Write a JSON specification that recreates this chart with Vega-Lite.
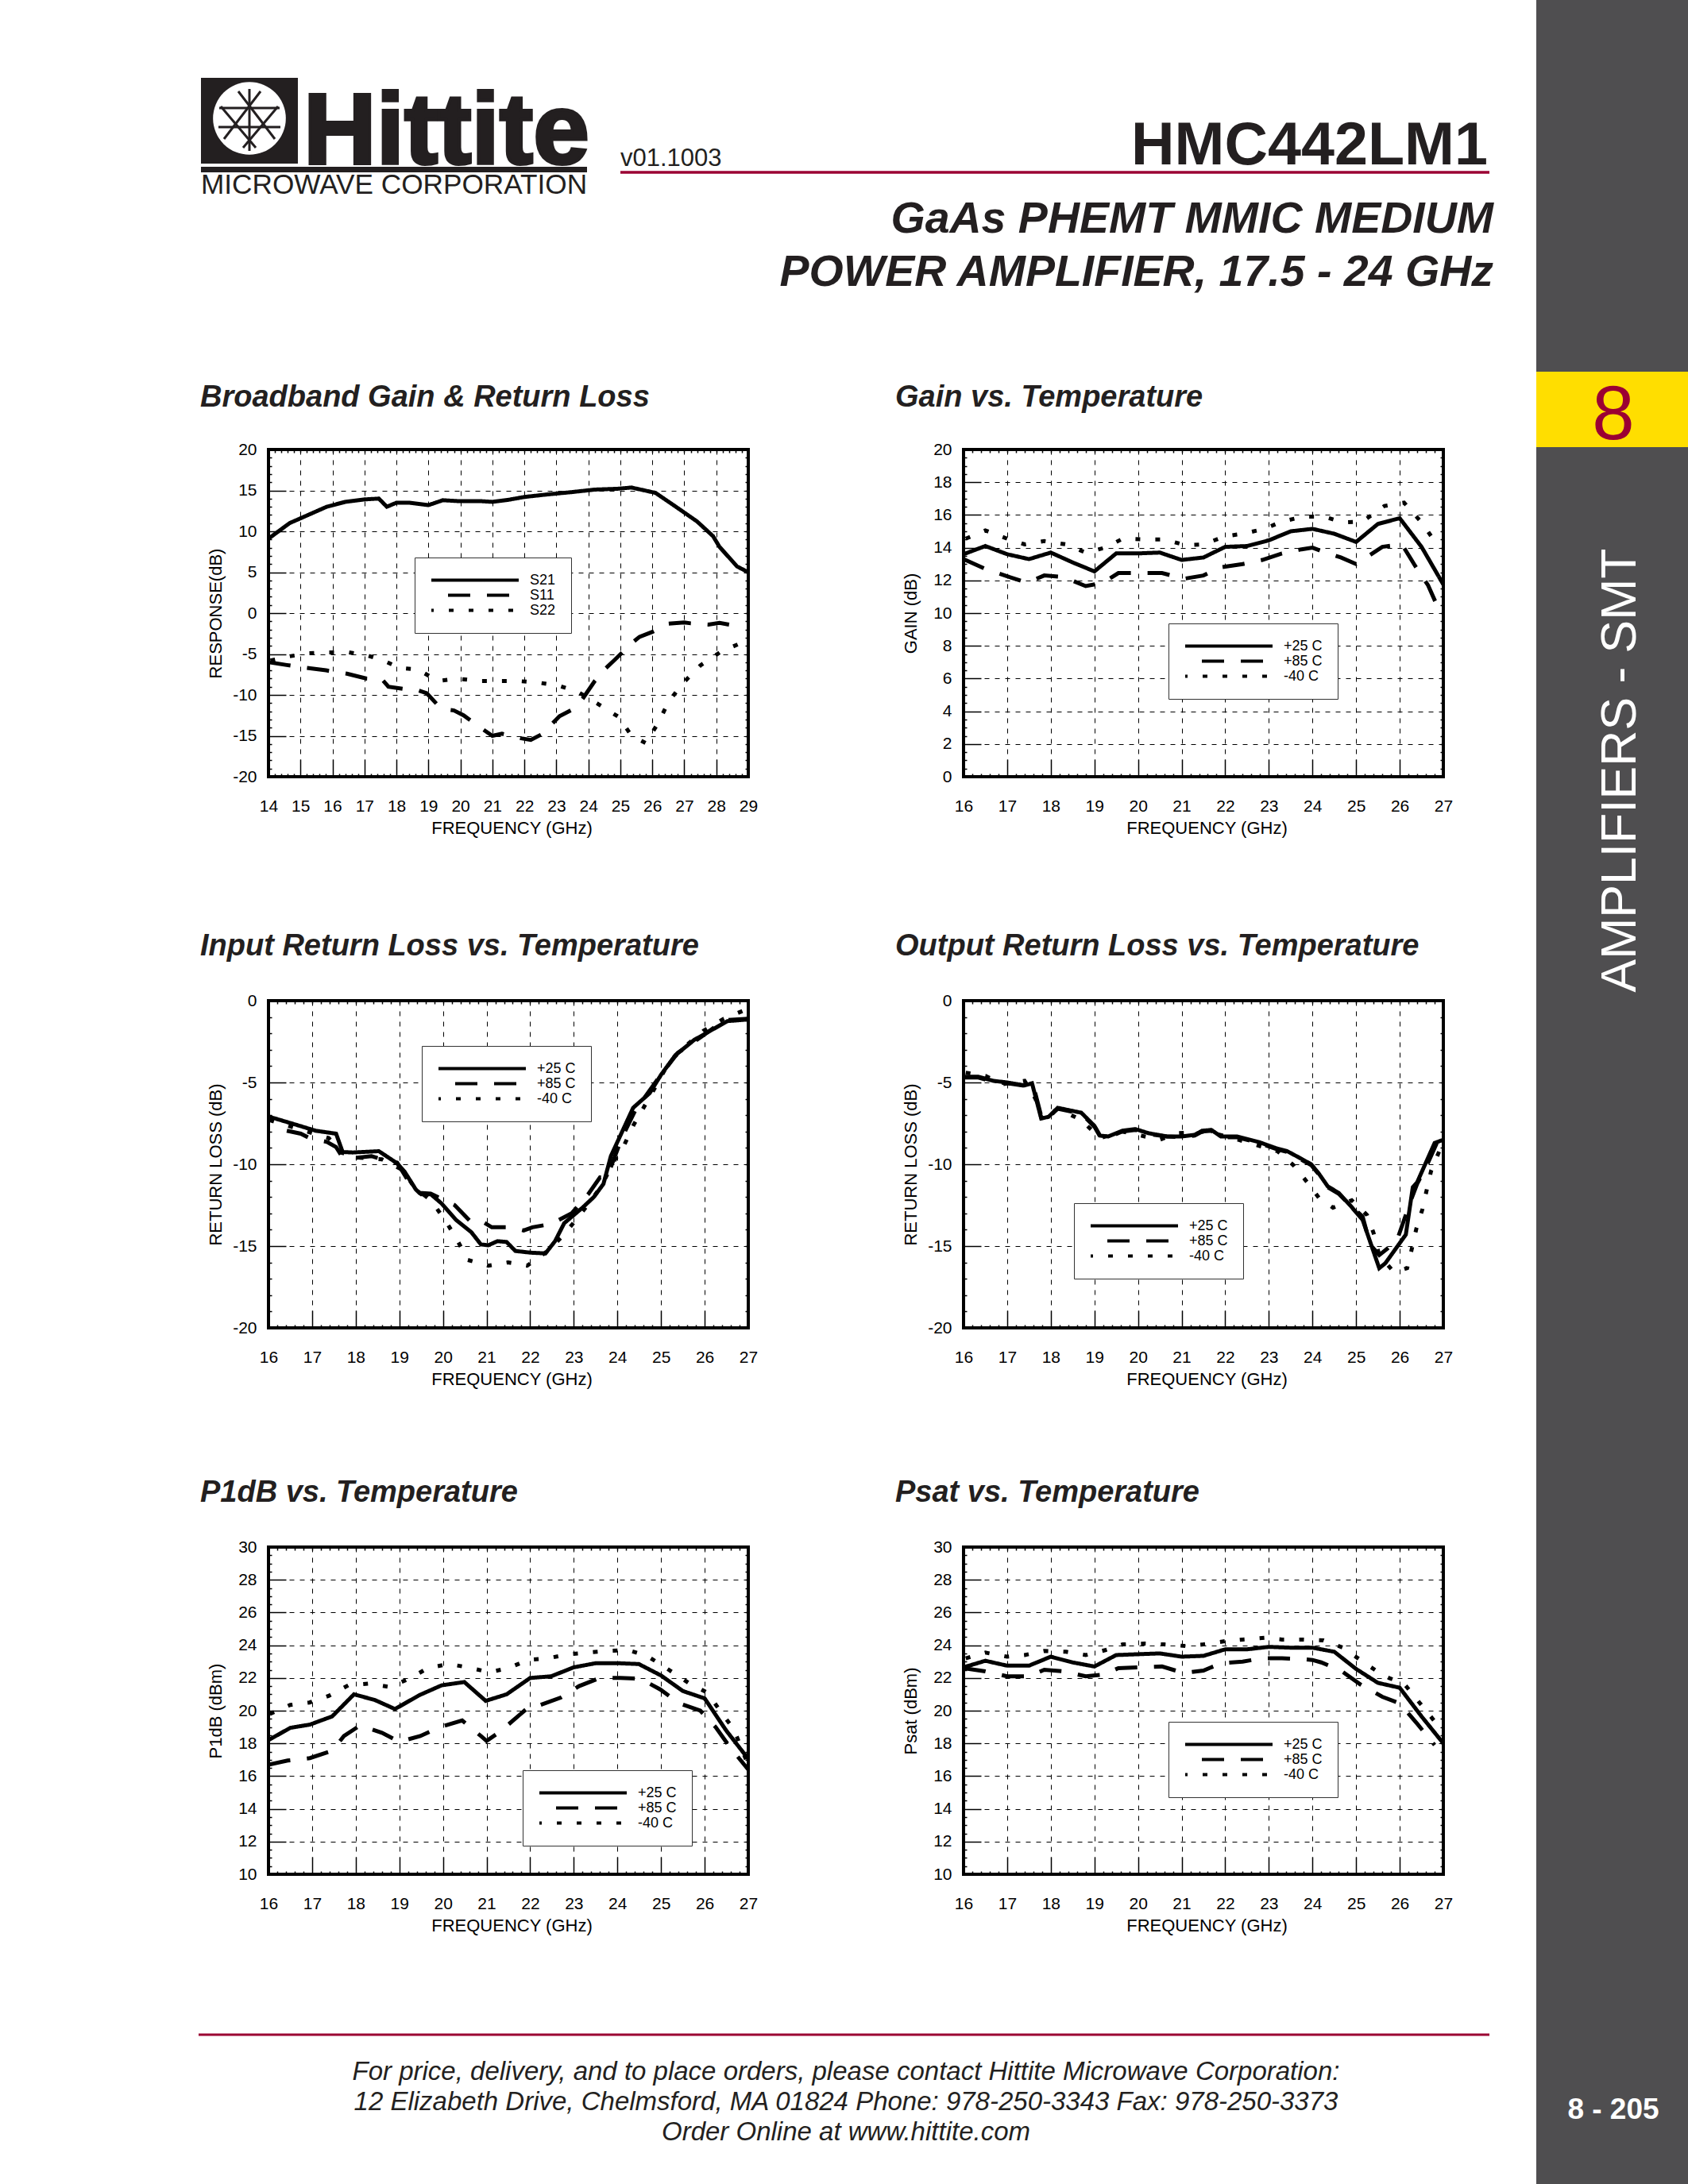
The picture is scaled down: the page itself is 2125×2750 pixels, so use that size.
{"$schema":"https://vega.github.io/schema/vega-lite/v6.json","background":"white","padding":0,"columns":4,"spacing":0,"bounds":"flush",
"resolve":{"scale":{"strokeDash":"independent"},"legend":{"strokeDash":"independent"}},
"config":{"font":"Liberation Sans","view":{"stroke":null},
"title":{"font":"Liberation Sans","fontSize":38,"fontWeight":"bold","fontStyle":"italic","anchor":"start","frame":"group","color":"#231f20","dx":-86,"baseline":"alphabetic"},
"axis":{"labelFontSize":21,"titleFontSize":22,"titleFontWeight":"normal","tickColor":"black","tickWidth":1.5,"domain":false,"gridColor":"black","gridDash":[6,7],"gridWidth":1,"labelColor":"black","titleColor":"black","labelOverlap":false,"labelBound":false,"labelFlush":false,"labelAngle":0},
"legend":{"symbolType":"stroke","symbolSize":12100,"symbolStrokeWidth":4,"symbolStrokeColor":"black","clipHeight":19,"labelFontSize":18,"labelColor":"black","padding":19,"strokeColor":"#333333","fillColor":"white","rowPadding":0,"symbolDashOffset":28,"labelOffset":12}},
"concat":[
{"width":338,"height":566,"data":{"values":[{}]},"layer":[
{"mark":{"type":"rect","color":"#4f4e50"},"encoding":{"x":{"datum":1934,"scale":{"domain":[0,338],"nice":false,"zero":false},"axis":null},"x2":{"datum":2125},"y":{"datum":0,"scale":{"domain":[0,566],"nice":false,"zero":false,"reverse":true},"axis":null},"y2":{"datum":2750}}},
{"mark":{"type":"rect","color":"#ffde00"},"encoding":{"x":{"datum":1934,"scale":{"domain":[0,338],"nice":false,"zero":false},"axis":null},"x2":{"datum":2125},"y":{"datum":468,"scale":{"domain":[0,566],"nice":false,"zero":false,"reverse":true},"axis":null},"y2":{"datum":563}}},
{"mark":{"type":"text","fontSize":96,"color":"#9b0033","align":"center","baseline":"alphabetic"},"encoding":{"text":{"value":"8"},"x":{"datum":2031,"scale":{"domain":[0,338],"nice":false,"zero":false},"axis":null},"y":{"datum":553,"scale":{"domain":[0,566],"nice":false,"zero":false,"reverse":true},"axis":null}}},
{"mark":{"type":"text","fontSize":62.5,"color":"white","align":"center","baseline":"alphabetic","angle":270},"encoding":{"text":{"value":"AMPLIFIERS - SMT"},"x":{"datum":2059,"scale":{"domain":[0,338],"nice":false,"zero":false},"axis":null},"y":{"datum":970,"scale":{"domain":[0,566],"nice":false,"zero":false,"reverse":true},"axis":null}}},
{"mark":{"type":"text","fontSize":37,"fontWeight":"bold","color":"white","align":"center","baseline":"alphabetic"},"encoding":{"text":{"value":"8 - 205"},"x":{"datum":2031,"scale":{"domain":[0,338],"nice":false,"zero":false},"axis":null},"y":{"datum":2668,"scale":{"domain":[0,566],"nice":false,"zero":false,"reverse":true},"axis":null}}},
{"mark":{"type":"rule","color":"#9b0033","strokeWidth":3.5},"encoding":{"x":{"datum":781,"scale":{"domain":[0,338],"nice":false,"zero":false},"axis":null},"x2":{"datum":1875},"y":{"datum":217,"scale":{"domain":[0,566],"nice":false,"zero":false,"reverse":true},"axis":null}}},
{"mark":{"type":"rule","color":"#9b0033","strokeWidth":3},"encoding":{"x":{"datum":250,"scale":{"domain":[0,338],"nice":false,"zero":false},"axis":null},"x2":{"datum":1875},"y":{"datum":2562,"scale":{"domain":[0,566],"nice":false,"zero":false,"reverse":true},"axis":null}}},
{"mark":{"type":"text","fontSize":75.5,"fontWeight":"bold","color":"#231f20","align":"right","baseline":"alphabetic"},"encoding":{"text":{"value":"HMC442LM1"},"x":{"datum":1873,"scale":{"domain":[0,338],"nice":false,"zero":false},"axis":null},"y":{"datum":207,"scale":{"domain":[0,566],"nice":false,"zero":false,"reverse":true},"axis":null}}},
{"mark":{"type":"text","fontSize":31,"color":"#231f20","align":"left","baseline":"alphabetic"},"encoding":{"text":{"value":"v01.1003"},"x":{"datum":781,"scale":{"domain":[0,338],"nice":false,"zero":false},"axis":null},"y":{"datum":209,"scale":{"domain":[0,566],"nice":false,"zero":false,"reverse":true},"axis":null}}},
{"mark":{"type":"text","fontSize":55.5,"fontWeight":"bold","fontStyle":"italic","color":"#231f20","align":"right","baseline":"alphabetic"},"encoding":{"text":{"value":"GaAs PHEMT MMIC MEDIUM"},"x":{"datum":1880,"scale":{"domain":[0,338],"nice":false,"zero":false},"axis":null},"y":{"datum":293,"scale":{"domain":[0,566],"nice":false,"zero":false,"reverse":true},"axis":null}}},
{"mark":{"type":"text","fontSize":55.5,"fontWeight":"bold","fontStyle":"italic","color":"#231f20","align":"right","baseline":"alphabetic"},"encoding":{"text":{"value":"POWER AMPLIFIER, 17.5 - 24 GHz"},"x":{"datum":1880,"scale":{"domain":[0,338],"nice":false,"zero":false},"axis":null},"y":{"datum":360,"scale":{"domain":[0,566],"nice":false,"zero":false,"reverse":true},"axis":null}}},
{"mark":{"type":"text","fontSize":33,"fontStyle":"italic","color":"#231f20","align":"center","baseline":"alphabetic"},"encoding":{"text":{"value":"For price, delivery, and to place orders, please contact Hittite Microwave Corporation:"},"x":{"datum":1065,"scale":{"domain":[0,338],"nice":false,"zero":false},"axis":null},"y":{"datum":2619,"scale":{"domain":[0,566],"nice":false,"zero":false,"reverse":true},"axis":null}}},
{"mark":{"type":"text","fontSize":33,"fontStyle":"italic","color":"#231f20","align":"center","baseline":"alphabetic"},"encoding":{"text":{"value":"12 Elizabeth Drive, Chelmsford, MA 01824 Phone: 978-250-3343  Fax: 978-250-3373"},"x":{"datum":1065,"scale":{"domain":[0,338],"nice":false,"zero":false},"axis":null},"y":{"datum":2657,"scale":{"domain":[0,566],"nice":false,"zero":false,"reverse":true},"axis":null}}},
{"mark":{"type":"text","fontSize":33,"fontStyle":"italic","color":"#231f20","align":"center","baseline":"alphabetic"},"encoding":{"text":{"value":"Order Online at www.hittite.com"},"x":{"datum":1065,"scale":{"domain":[0,338],"nice":false,"zero":false},"axis":null},"y":{"datum":2695,"scale":{"domain":[0,566],"nice":false,"zero":false,"reverse":true},"axis":null}}},
{"mark":{"type":"rect","color":"#231f20"},"encoding":{"x":{"datum":253,"scale":{"domain":[0,338],"nice":false,"zero":false},"axis":null},"x2":{"datum":375},"y":{"datum":98,"scale":{"domain":[0,566],"nice":false,"zero":false,"reverse":true},"axis":null},"y2":{"datum":206}}},
{"mark":{"type":"rect","color":"#231f20"},"encoding":{"x":{"datum":253,"scale":{"domain":[0,338],"nice":false,"zero":false},"axis":null},"x2":{"datum":739},"y":{"datum":210,"scale":{"domain":[0,566],"nice":false,"zero":false,"reverse":true},"axis":null},"y2":{"datum":217}}},
{"mark":{"type":"point","filled":true,"color":"white","opacity":1,"size":8400},"encoding":{"x":{"datum":314,"scale":{"domain":[0,338],"nice":false,"zero":false},"axis":null},"y":{"datum":149,"scale":{"domain":[0,566],"nice":false,"zero":false,"reverse":true},"axis":null}}},
{"mark":{"type":"rule","color":"#231f20","strokeWidth":3},"encoding":{"x":{"datum":300,"scale":{"domain":[0,338],"nice":false,"zero":false},"axis":null},"x2":{"datum":346},"y":{"datum":115,"scale":{"domain":[0,566],"nice":false,"zero":false,"reverse":true},"axis":null},"y2":{"datum":175}}},
{"mark":{"type":"rule","color":"#231f20","strokeWidth":3},"encoding":{"x":{"datum":328,"scale":{"domain":[0,338],"nice":false,"zero":false},"axis":null},"x2":{"datum":282},"y":{"datum":115,"scale":{"domain":[0,566],"nice":false,"zero":false,"reverse":true},"axis":null},"y2":{"datum":175}}},
{"mark":{"type":"rule","color":"#231f20","strokeWidth":3},"encoding":{"x":{"datum":278,"scale":{"domain":[0,338],"nice":false,"zero":false},"axis":null},"x2":{"datum":322},"y":{"datum":134,"scale":{"domain":[0,566],"nice":false,"zero":false,"reverse":true},"axis":null},"y2":{"datum":186}}},
{"mark":{"type":"rule","color":"#231f20","strokeWidth":3},"encoding":{"x":{"datum":350,"scale":{"domain":[0,338],"nice":false,"zero":false},"axis":null},"x2":{"datum":306},"y":{"datum":134,"scale":{"domain":[0,566],"nice":false,"zero":false,"reverse":true},"axis":null},"y2":{"datum":186}}},
{"mark":{"type":"rule","color":"#231f20","strokeWidth":3},"encoding":{"x":{"datum":276,"scale":{"domain":[0,338],"nice":false,"zero":false},"axis":null},"x2":{"datum":352},"y":{"datum":136,"scale":{"domain":[0,566],"nice":false,"zero":false,"reverse":true},"axis":null}}},
{"mark":{"type":"rule","color":"#231f20","strokeWidth":3},"encoding":{"x":{"datum":275,"scale":{"domain":[0,338],"nice":false,"zero":false},"axis":null},"x2":{"datum":353},"y":{"datum":160,"scale":{"domain":[0,566],"nice":false,"zero":false,"reverse":true},"axis":null}}},
{"mark":{"type":"rule","color":"#231f20","strokeWidth":3},"encoding":{"x":{"datum":314,"scale":{"domain":[0,338],"nice":false,"zero":false},"axis":null},"y":{"datum":112,"scale":{"domain":[0,566],"nice":false,"zero":false,"reverse":true},"axis":null},"y2":{"datum":190}}},
{"mark":{"type":"text","fontSize":127,"fontWeight":"bold","color":"#231f20","stroke":"#231f20","strokeWidth":4,"align":"left","baseline":"alphabetic"},"encoding":{"text":{"value":"Hittite"},"x":{"datum":382,"scale":{"domain":[0,338],"nice":false,"zero":false},"axis":null},"y":{"datum":206,"scale":{"domain":[0,566],"nice":false,"zero":false,"reverse":true},"axis":null}}},
{"mark":{"type":"text","fontSize":35.2,"color":"#231f20","align":"left","baseline":"alphabetic"},"encoding":{"text":{"value":"MICROWAVE CORPORATION"},"x":{"datum":253,"scale":{"domain":[0,338],"nice":false,"zero":false},"axis":null},"y":{"datum":244,"scale":{"domain":[0,566],"nice":false,"zero":false,"reverse":true},"axis":null}}}
]},
{"width":1,"height":1,"data":{"values":[]},"mark":"point"},
{"width":271,"height":1,"data":{"values":[]},"mark":"point"},
{"width":1,"height":1,"data":{"values":[]},"mark":"point"},
{"width":1,"height":412,"data":{"values":[]},"mark":"point"},
{"width":604,"height":412,"title":{"text":"Broadband Gain & Return Loss","offset":35},"resolve":{"axis":{"x":"independent","y":"independent"}},
"layer":[{"data":{"values":[
{"f":14,"v":9.1,"s":"S21"},{"f":14.66,"v":11,"s":"S21"},{"f":15.82,"v":13,"s":"S21"},{"f":16.4,"v":13.6,"s":"S21"},{"f":17,"v":13.9,"s":"S21"},{"f":17.45,"v":14,"s":"S21"},{"f":17.7,"v":13,"s":"S21"},{"f":18,"v":13.5,"s":"S21"},{"f":18.4,"v":13.5,"s":"S21"},{"f":19,"v":13.2,"s":"S21"},{"f":19.45,"v":13.8,"s":"S21"},{"f":19.9,"v":13.7,"s":"S21"},{"f":20.6,"v":13.7,"s":"S21"},{"f":21,"v":13.6,"s":"S21"},{"f":21.5,"v":13.85,"s":"S21"},{"f":22,"v":14.2,"s":"S21"},{"f":22.7,"v":14.5,"s":"S21"},{"f":23.5,"v":14.8,"s":"S21"},{"f":24.2,"v":15.1,"s":"S21"},{"f":24.9,"v":15.2,"s":"S21"},{"f":25.35,"v":15.35,"s":"S21"},{"f":26.1,"v":14.7,"s":"S21"},{"f":26.7,"v":13.1,"s":"S21"},{"f":27.4,"v":11.2,"s":"S21"},{"f":27.9,"v":9.4,"s":"S21"},{"f":28.1,"v":8.1,"s":"S21"},{"f":28.65,"v":5.7,"s":"S21"},{"f":29,"v":5,"s":"S21"},
{"f":14,"v":-6,"s":"S11"},{"f":14.57,"v":-6.35,"s":"S11"},{"f":15.2,"v":-6.7,"s":"S11"},{"f":15.8,"v":-7,"s":"S11"},{"f":16.45,"v":-7.4,"s":"S11"},{"f":17.07,"v":-8,"s":"S11"},{"f":17.55,"v":-8.1,"s":"S11"},{"f":17.75,"v":-9,"s":"S11"},{"f":18.3,"v":-9.3,"s":"S11"},{"f":18.6,"v":-9.35,"s":"S11"},{"f":18.95,"v":-9.8,"s":"S11"},{"f":19.4,"v":-11.7,"s":"S11"},{"f":19.8,"v":-11.9,"s":"S11"},{"f":20.1,"v":-12.5,"s":"S11"},{"f":20.7,"v":-14.2,"s":"S11"},{"f":21,"v":-15,"s":"S11"},{"f":21.3,"v":-14.75,"s":"S11"},{"f":21.9,"v":-15.3,"s":"S11"},{"f":22.2,"v":-15.5,"s":"S11"},{"f":22.55,"v":-14.8,"s":"S11"},{"f":23.1,"v":-12.6,"s":"S11"},{"f":23.5,"v":-11.8,"s":"S11"},{"f":23.8,"v":-10.6,"s":"S11"},{"f":24.2,"v":-8.3,"s":"S11"},{"f":24.5,"v":-6.9,"s":"S11"},{"f":24.8,"v":-5.8,"s":"S11"},{"f":25.35,"v":-3.7,"s":"S11"},{"f":25.6,"v":-2.9,"s":"S11"},{"f":26,"v":-2.3,"s":"S11"},{"f":26.5,"v":-1.3,"s":"S11"},{"f":27,"v":-1.15,"s":"S11"},{"f":27.2,"v":-1.25,"s":"S11"},{"f":27.75,"v":-1.4,"s":"S11"},{"f":28.1,"v":-1.2,"s":"S11"},{"f":28.4,"v":-1.4,"s":"S11"},
{"f":14.06,"v":-5.8,"s":"S22"},{"f":14.64,"v":-5.3,"s":"S22"},{"f":15.24,"v":-4.9,"s":"S22"},{"f":15.86,"v":-4.8,"s":"S22"},{"f":16.5,"v":-4.8,"s":"S22"},{"f":17.1,"v":-5.2,"s":"S22"},{"f":17.6,"v":-5.8,"s":"S22"},{"f":18.1,"v":-6.7,"s":"S22"},{"f":18.67,"v":-6.9,"s":"S22"},{"f":19.3,"v":-8.3,"s":"S22"},{"f":19.9,"v":-8,"s":"S22"},{"f":20.56,"v":-8.3,"s":"S22"},{"f":21.2,"v":-8.3,"s":"S22"},{"f":21.8,"v":-8.3,"s":"S22"},{"f":22.45,"v":-8.5,"s":"S22"},{"f":23.1,"v":-8.9,"s":"S22"},{"f":23.66,"v":-9.6,"s":"S22"},{"f":24.3,"v":-11.1,"s":"S22"},{"f":24.95,"v":-12.7,"s":"S22"},{"f":25.35,"v":-15,"s":"S22"},{"f":25.8,"v":-15.9,"s":"S22"},{"f":26.2,"v":-13.3,"s":"S22"},{"f":26.5,"v":-10.9,"s":"S22"},{"f":26.95,"v":-8.6,"s":"S22"},{"f":27.5,"v":-6.4,"s":"S22"},{"f":28.15,"v":-4.7,"s":"S22"},{"f":28.75,"v":-3.7,"s":"S22"},{"f":29,"v":-3.6,"s":"S22"}]},
"mark":{"type":"line","color":"black","strokeWidth":5,"clip":true,"strokeCap":"butt"},
"encoding":{"x":{"field":"f","type":"quantitative","scale":{"domain":[14,29],"nice":false,"zero":false},"axis":{"title":"FREQUENCY (GHz)","tickCount":75,"tickSize":{"condition":{"test":"abs(datum.value-round(datum.value))<0.01","value":-22},"value":-4},"grid":true,"gridOpacity":{"condition":{"test":"abs(datum.value-round(datum.value))<0.01","value":1},"value":0},"labelExpr":"abs(datum.value-round(datum.value))<0.01 ? round(datum.value) : ''","labelPadding":48,"titleX":306,"titleY":71,"titleBaseline":"alphabetic"}},
"y":{"field":"v","type":"quantitative","scale":{"domain":[-20,20],"nice":false,"zero":false},"axis":{"title":"RESPONSE(dB)","tickCount":40,"tickSize":{"condition":{"test":"abs(datum.value/5-round(datum.value/5))<0.01","value":-22},"value":-4},"grid":true,"gridOpacity":{"condition":{"test":"abs(datum.value/5-round(datum.value/5))<0.01","value":1},"value":0},"labelExpr":"abs(datum.value/5-round(datum.value/5))<0.01 ? round(datum.value) : ''","labelPadding":37,"titleX":-60,"titleBaseline":"alphabetic"}},
"strokeDash":{"field":"s","type":"nominal","scale":{"domain":["S21","S11","S22"],"range":[[1,0],[28,21],[6,19]]},"legend":{"orient":"none","legendX":184,"legendY":136,"title":null}}}},
{"data":{"values":[]},"mark":{"type":"line"},"encoding":{"x":{"field":"f","type":"quantitative","scale":{"domain":[14,29],"nice":false,"zero":false},"axis":{"orient":"top","title":null,"labels":false,"tickCount":75,"tickSize":-4}},"y":{"field":"v","type":"quantitative","scale":{"domain":[-20,20],"nice":false,"zero":false},"axis":{"orient":"right","title":null,"labels":false,"tickCount":40,"tickSize":-4}}}}],
"view":{"stroke":"black","strokeWidth":4}},
{"width":1,"height":1,"data":{"values":[]},"mark":"point"},
{"width":604,"height":412,"title":{"text":"Gain vs. Temperature","offset":35},"resolve":{"axis":{"x":"independent","y":"independent"}},
"layer":[{"data":{"values":[
{"f":16,"v":13.6,"s":"+25 C"},{"f":16.5,"v":14.1,"s":"+25 C"},{"f":17,"v":13.6,"s":"+25 C"},{"f":17.5,"v":13.3,"s":"+25 C"},{"f":18,"v":13.7,"s":"+25 C"},{"f":18.5,"v":13.1,"s":"+25 C"},{"f":19,"v":12.55,"s":"+25 C"},{"f":19.5,"v":13.65,"s":"+25 C"},{"f":20,"v":13.65,"s":"+25 C"},{"f":20.5,"v":13.7,"s":"+25 C"},{"f":21,"v":13.25,"s":"+25 C"},{"f":21.5,"v":13.4,"s":"+25 C"},{"f":22,"v":14.05,"s":"+25 C"},{"f":22.5,"v":14.1,"s":"+25 C"},{"f":23,"v":14.45,"s":"+25 C"},{"f":23.5,"v":15,"s":"+25 C"},{"f":24,"v":15.15,"s":"+25 C"},{"f":24.5,"v":14.85,"s":"+25 C"},{"f":25,"v":14.35,"s":"+25 C"},{"f":25.5,"v":15.45,"s":"+25 C"},{"f":26,"v":15.8,"s":"+25 C"},{"f":26.5,"v":14.05,"s":"+25 C"},{"f":27,"v":11.75,"s":"+25 C"},
{"f":16,"v":13.3,"s":"+85 C"},{"f":16.5,"v":12.7,"s":"+85 C"},{"f":17,"v":12.25,"s":"+85 C"},{"f":17.4,"v":11.9,"s":"+85 C"},{"f":17.5,"v":11.9,"s":"+85 C"},{"f":17.85,"v":12.3,"s":"+85 C"},{"f":18.3,"v":12.2,"s":"+85 C"},{"f":18.8,"v":11.65,"s":"+85 C"},{"f":19.2,"v":11.85,"s":"+85 C"},{"f":19.55,"v":12.45,"s":"+85 C"},{"f":20.05,"v":12.45,"s":"+85 C"},{"f":20.55,"v":12.45,"s":"+85 C"},{"f":21.05,"v":12.1,"s":"+85 C"},{"f":21.5,"v":12.3,"s":"+85 C"},{"f":21.9,"v":12.8,"s":"+85 C"},{"f":22.4,"v":13,"s":"+85 C"},{"f":22.85,"v":13.25,"s":"+85 C"},{"f":23.3,"v":13.65,"s":"+85 C"},{"f":23.75,"v":13.9,"s":"+85 C"},{"f":24,"v":14,"s":"+85 C"},{"f":24.2,"v":13.8,"s":"+85 C"},{"f":24.65,"v":13.4,"s":"+85 C"},{"f":25,"v":13,"s":"+85 C"},{"f":25.15,"v":13.25,"s":"+85 C"},{"f":25.6,"v":14.05,"s":"+85 C"},{"f":26.05,"v":14.2,"s":"+85 C"},{"f":26.35,"v":12.9,"s":"+85 C"},{"f":26.65,"v":11.7,"s":"+85 C"},{"f":26.85,"v":10.5,"s":"+85 C"},{"f":27,"v":10,"s":"+85 C"},
{"f":16.05,"v":14.55,"s":"-40 C"},{"f":16.5,"v":15.05,"s":"-40 C"},{"f":17,"v":14.55,"s":"-40 C"},{"f":17.4,"v":14.2,"s":"-40 C"},{"f":17.85,"v":14.4,"s":"-40 C"},{"f":18.35,"v":14.2,"s":"-40 C"},{"f":18.8,"v":13.7,"s":"-40 C"},{"f":19.25,"v":14,"s":"-40 C"},{"f":19.65,"v":14.55,"s":"-40 C"},{"f":20.15,"v":14.5,"s":"-40 C"},{"f":20.6,"v":14.5,"s":"-40 C"},{"f":21.1,"v":14.15,"s":"-40 C"},{"f":21.5,"v":14.2,"s":"-40 C"},{"f":22,"v":14.7,"s":"-40 C"},{"f":22.4,"v":14.85,"s":"-40 C"},{"f":22.9,"v":15.15,"s":"-40 C"},{"f":23.3,"v":15.6,"s":"-40 C"},{"f":23.8,"v":15.9,"s":"-40 C"},{"f":24.25,"v":15.9,"s":"-40 C"},{"f":24.7,"v":15.55,"s":"-40 C"},{"f":25.15,"v":15.6,"s":"-40 C"},{"f":25.65,"v":16.55,"s":"-40 C"},{"f":26.1,"v":16.75,"s":"-40 C"},{"f":26.5,"v":15.55,"s":"-40 C"},{"f":26.8,"v":14.4,"s":"-40 C"},{"f":27,"v":14.2,"s":"-40 C"}]},
"mark":{"type":"line","color":"black","strokeWidth":5,"clip":true,"strokeCap":"butt"},
"encoding":{"x":{"field":"f","type":"quantitative","scale":{"domain":[16,27],"nice":false,"zero":false},"axis":{"title":"FREQUENCY (GHz)","tickCount":55,"tickSize":{"condition":{"test":"abs(datum.value-round(datum.value))<0.01","value":-22},"value":-4},"grid":true,"gridOpacity":{"condition":{"test":"abs(datum.value-round(datum.value))<0.01","value":1},"value":0},"labelExpr":"abs(datum.value-round(datum.value))<0.01 ? round(datum.value) : ''","labelPadding":48,"titleX":306,"titleY":71,"titleBaseline":"alphabetic"}},
"y":{"field":"v","type":"quantitative","scale":{"domain":[0,20],"nice":false,"zero":false},"axis":{"title":"GAIN (dB)","tickCount":40,"tickSize":{"condition":{"test":"abs(datum.value/2-round(datum.value/2))<0.01","value":-22},"value":-4},"grid":true,"gridOpacity":{"condition":{"test":"abs(datum.value/2-round(datum.value/2))<0.01","value":1},"value":0},"labelExpr":"abs(datum.value/2-round(datum.value/2))<0.01 ? round(datum.value) : ''","labelPadding":37,"titleX":-60,"titleBaseline":"alphabetic"}},
"strokeDash":{"field":"s","type":"nominal","scale":{"domain":["+25 C","+85 C","-40 C"],"range":[[1,0],[28,21],[6,19]]},"legend":{"orient":"none","legendX":258,"legendY":219,"title":null}}}},
{"data":{"values":[]},"mark":{"type":"line"},"encoding":{"x":{"field":"f","type":"quantitative","scale":{"domain":[16,27],"nice":false,"zero":false},"axis":{"orient":"top","title":null,"labels":false,"tickCount":55,"tickSize":-4}},"y":{"field":"v","type":"quantitative","scale":{"domain":[0,20],"nice":false,"zero":false},"axis":{"orient":"right","title":null,"labels":false,"tickCount":40,"tickSize":-4}}}}],
"view":{"stroke":"black","strokeWidth":4}},
{"width":1,"height":282,"data":{"values":[]},"mark":"point"},
{"width":1,"height":1,"data":{"values":[]},"mark":"point"},
{"width":1,"height":1,"data":{"values":[]},"mark":"point"},
{"width":1,"height":1,"data":{"values":[]},"mark":"point"},
{"width":1,"height":412,"data":{"values":[]},"mark":"point"},
{"width":604,"height":412,"title":{"text":"Input Return Loss vs. Temperature","offset":38},"resolve":{"axis":{"x":"independent","y":"independent"}},
"layer":[{"data":{"values":[
{"f":16,"v":-7.08,"s":"+25 C"},{"f":16.74,"v":-7.67,"s":"+25 C"},{"f":17.08,"v":-7.95,"s":"+25 C"},{"f":17.55,"v":-8.13,"s":"+25 C"},{"f":17.7,"v":-9.25,"s":"+25 C"},{"f":17.93,"v":-9.28,"s":"+25 C"},{"f":18.53,"v":-9.2,"s":"+25 C"},{"f":18.87,"v":-9.8,"s":"+25 C"},{"f":18.95,"v":-9.95,"s":"+25 C"},{"f":19.12,"v":-10.45,"s":"+25 C"},{"f":19.38,"v":-11.55,"s":"+25 C"},{"f":19.5,"v":-11.83,"s":"+25 C"},{"f":19.72,"v":-11.83,"s":"+25 C"},{"f":19.97,"v":-12.4,"s":"+25 C"},{"f":20.3,"v":-13.4,"s":"+25 C"},{"f":20.65,"v":-14.15,"s":"+25 C"},{"f":20.87,"v":-14.9,"s":"+25 C"},{"f":21.04,"v":-14.95,"s":"+25 C"},{"f":21.25,"v":-14.7,"s":"+25 C"},{"f":21.46,"v":-14.75,"s":"+25 C"},{"f":21.66,"v":-15.3,"s":"+25 C"},{"f":22,"v":-15.4,"s":"+25 C"},{"f":22.35,"v":-15.45,"s":"+25 C"},{"f":22.57,"v":-14.7,"s":"+25 C"},{"f":22.78,"v":-13.6,"s":"+25 C"},{"f":23.2,"v":-12.65,"s":"+25 C"},{"f":23.46,"v":-12,"s":"+25 C"},{"f":23.68,"v":-11.2,"s":"+25 C"},{"f":23.85,"v":-9.5,"s":"+25 C"},{"f":24.36,"v":-6.55,"s":"+25 C"},{"f":24.74,"v":-5.65,"s":"+25 C"},{"f":25,"v":-4.53,"s":"+25 C"},{"f":25.33,"v":-3.33,"s":"+25 C"},{"f":25.76,"v":-2.4,"s":"+25 C"},{"f":26.19,"v":-1.75,"s":"+25 C"},{"f":26.52,"v":-1.25,"s":"+25 C"},{"f":27,"v":-1.15,"s":"+25 C"},
{"f":16.42,"v":-7.95,"s":"+85 C"},{"f":16.74,"v":-8.13,"s":"+85 C"},{"f":16.98,"v":-8.45,"s":"+85 C"},{"f":17.34,"v":-8.63,"s":"+85 C"},{"f":17.55,"v":-8.95,"s":"+85 C"},{"f":17.7,"v":-9.58,"s":"+85 C"},{"f":18.03,"v":-9.6,"s":"+85 C"},{"f":18.36,"v":-9.5,"s":"+85 C"},{"f":18.6,"v":-9.7,"s":"+85 C"},{"f":18.95,"v":-9.9,"s":"+85 C"},{"f":19.2,"v":-11,"s":"+85 C"},{"f":19.46,"v":-11.75,"s":"+85 C"},{"f":19.72,"v":-11.8,"s":"+85 C"},{"f":20.27,"v":-12.5,"s":"+85 C"},{"f":20.65,"v":-13.55,"s":"+85 C"},{"f":20.9,"v":-13.5,"s":"+85 C"},{"f":21.12,"v":-13.85,"s":"+85 C"},{"f":21.55,"v":-13.85,"s":"+85 C"},{"f":21.85,"v":-14.05,"s":"+85 C"},{"f":22.05,"v":-13.85,"s":"+85 C"},{"f":22.48,"v":-13.65,"s":"+85 C"},{"f":22.95,"v":-13,"s":"+85 C"},{"f":23.33,"v":-11.83,"s":"+85 C"},{"f":23.6,"v":-10.8,"s":"+85 C"},{"f":23.76,"v":-10.8,"s":"+85 C"},{"f":24.1,"v":-8.4,"s":"+85 C"},{"f":24.4,"v":-6.75,"s":"+85 C"},{"f":24.95,"v":-4.7,"s":"+85 C"},{"f":25.38,"v":-3.2,"s":"+85 C"},{"f":25.93,"v":-2.2,"s":"+85 C"},{"f":26.44,"v":-1.2,"s":"+85 C"},{"f":27,"v":-1.1,"s":"+85 C"},
{"f":16.02,"v":-7.3,"s":"-40 C"},{"f":17.38,"v":-8.4,"s":"-40 C"},{"f":17.68,"v":-9.3,"s":"-40 C"},{"f":18.1,"v":-9.6,"s":"-40 C"},{"f":18.6,"v":-9.7,"s":"-40 C"},{"f":19.08,"v":-10.35,"s":"-40 C"},{"f":19.34,"v":-11.4,"s":"-40 C"},{"f":19.72,"v":-12.2,"s":"-40 C"},{"f":20.06,"v":-13.45,"s":"-40 C"},{"f":20.34,"v":-14.7,"s":"-40 C"},{"f":20.57,"v":-15.85,"s":"-40 C"},{"f":21.04,"v":-16.2,"s":"-40 C"},{"f":21.49,"v":-16,"s":"-40 C"},{"f":21.93,"v":-16.2,"s":"-40 C"},{"f":22.4,"v":-15.3,"s":"-40 C"},{"f":22.74,"v":-14.4,"s":"-40 C"},{"f":23.08,"v":-13.3,"s":"-40 C"},{"f":23.4,"v":-12.2,"s":"-40 C"},{"f":23.65,"v":-11.25,"s":"-40 C"},{"f":23.9,"v":-9.9,"s":"-40 C"},{"f":24.16,"v":-8.8,"s":"-40 C"},{"f":24.37,"v":-7.6,"s":"-40 C"},{"f":24.63,"v":-6.4,"s":"-40 C"},{"f":24.95,"v":-4.9,"s":"-40 C"},{"f":25.17,"v":-3.8,"s":"-40 C"},{"f":25.55,"v":-2.8,"s":"-40 C"},{"f":25.97,"v":-1.85,"s":"-40 C"},{"f":26.44,"v":-1.1,"s":"-40 C"},{"f":26.9,"v":-0.6,"s":"-40 C"},{"f":27,"v":-0.5,"s":"-40 C"}]},
"mark":{"type":"line","color":"black","strokeWidth":5,"clip":true,"strokeCap":"butt"},
"encoding":{"x":{"field":"f","type":"quantitative","scale":{"domain":[16,27],"nice":false,"zero":false},"axis":{"title":"FREQUENCY (GHz)","tickCount":55,"tickSize":{"condition":{"test":"abs(datum.value-round(datum.value))<0.01","value":-22},"value":-4},"grid":true,"gridOpacity":{"condition":{"test":"abs(datum.value-round(datum.value))<0.01","value":1},"value":0},"labelExpr":"abs(datum.value-round(datum.value))<0.01 ? round(datum.value) : ''","labelPadding":48,"titleX":306,"titleY":71,"titleBaseline":"alphabetic"}},
"y":{"field":"v","type":"quantitative","scale":{"domain":[-20,0],"nice":false,"zero":false},"axis":{"title":"RETURN LOSS (dB)","tickCount":20,"tickSize":{"condition":{"test":"abs(datum.value/5-round(datum.value/5))<0.01","value":-22},"value":-4},"grid":true,"gridOpacity":{"condition":{"test":"abs(datum.value/5-round(datum.value/5))<0.01","value":1},"value":0},"labelExpr":"abs(datum.value/5-round(datum.value/5))<0.01 ? round(datum.value) : ''","labelPadding":37,"titleX":-60,"titleBaseline":"alphabetic"}},
"strokeDash":{"field":"s","type":"nominal","scale":{"domain":["+25 C","+85 C","-40 C"],"range":[[1,0],[28,21],[6,19]]},"legend":{"orient":"none","legendX":193,"legendY":57,"title":null}}}},
{"data":{"values":[]},"mark":{"type":"line"},"encoding":{"x":{"field":"f","type":"quantitative","scale":{"domain":[16,27],"nice":false,"zero":false},"axis":{"orient":"top","title":null,"labels":false,"tickCount":55,"tickSize":-4}},"y":{"field":"v","type":"quantitative","scale":{"domain":[-20,0],"nice":false,"zero":false},"axis":{"orient":"right","title":null,"labels":false,"tickCount":20,"tickSize":-4}}}}],
"view":{"stroke":"black","strokeWidth":4}},
{"width":1,"height":1,"data":{"values":[]},"mark":"point"},
{"width":604,"height":412,"title":{"text":"Output Return Loss vs. Temperature","offset":38},"resolve":{"axis":{"x":"independent","y":"independent"}},
"layer":[{"data":{"values":[
{"f":16,"v":-4.65,"s":"+25 C"},{"f":16.34,"v":-4.65,"s":"+25 C"},{"f":16.68,"v":-4.9,"s":"+25 C"},{"f":17,"v":-5,"s":"+25 C"},{"f":17.4,"v":-5.18,"s":"+25 C"},{"f":17.57,"v":-5.05,"s":"+25 C"},{"f":17.78,"v":-7.2,"s":"+25 C"},{"f":17.95,"v":-7.1,"s":"+25 C"},{"f":18.16,"v":-6.55,"s":"+25 C"},{"f":18.7,"v":-6.85,"s":"+25 C"},{"f":19,"v":-7.65,"s":"+25 C"},{"f":19.13,"v":-8.25,"s":"+25 C"},{"f":19.32,"v":-8.3,"s":"+25 C"},{"f":19.64,"v":-7.95,"s":"+25 C"},{"f":19.94,"v":-7.85,"s":"+25 C"},{"f":20.24,"v":-8.1,"s":"+25 C"},{"f":20.66,"v":-8.3,"s":"+25 C"},{"f":21,"v":-8.3,"s":"+25 C"},{"f":21.3,"v":-8.2,"s":"+25 C"},{"f":21.47,"v":-7.95,"s":"+25 C"},{"f":21.68,"v":-7.9,"s":"+25 C"},{"f":21.9,"v":-8.3,"s":"+25 C"},{"f":22.27,"v":-8.3,"s":"+25 C"},{"f":22.78,"v":-8.65,"s":"+25 C"},{"f":23.2,"v":-9.05,"s":"+25 C"},{"f":23.42,"v":-9.2,"s":"+25 C"},{"f":23.7,"v":-9.6,"s":"+25 C"},{"f":23.97,"v":-10,"s":"+25 C"},{"f":24.14,"v":-10.55,"s":"+25 C"},{"f":24.35,"v":-11.35,"s":"+25 C"},{"f":24.6,"v":-11.75,"s":"+25 C"},{"f":24.86,"v":-12.5,"s":"+25 C"},{"f":25.15,"v":-13.4,"s":"+25 C"},{"f":25.53,"v":-16.35,"s":"+25 C"},{"f":25.67,"v":-16.05,"s":"+25 C"},{"f":26.14,"v":-14.3,"s":"+25 C"},{"f":26.3,"v":-11.4,"s":"+25 C"},{"f":26.4,"v":-11.1,"s":"+25 C"},{"f":26.8,"v":-8.7,"s":"+25 C"},{"f":27,"v":-8.5,"s":"+25 C"},
{"f":16,"v":-4.7,"s":"+85 C"},{"f":16.34,"v":-4.7,"s":"+85 C"},{"f":16.68,"v":-4.95,"s":"+85 C"},{"f":17,"v":-5.05,"s":"+85 C"},{"f":17.4,"v":-5.2,"s":"+85 C"},{"f":17.6,"v":-5.2,"s":"+85 C"},{"f":17.8,"v":-7.25,"s":"+85 C"},{"f":18,"v":-7,"s":"+85 C"},{"f":18.16,"v":-6.6,"s":"+85 C"},{"f":18.7,"v":-6.9,"s":"+85 C"},{"f":19,"v":-7.7,"s":"+85 C"},{"f":19.13,"v":-8.3,"s":"+85 C"},{"f":19.32,"v":-8.35,"s":"+85 C"},{"f":19.64,"v":-8,"s":"+85 C"},{"f":19.94,"v":-7.9,"s":"+85 C"},{"f":20.24,"v":-8.15,"s":"+85 C"},{"f":20.66,"v":-8.3,"s":"+85 C"},{"f":21,"v":-8.35,"s":"+85 C"},{"f":21.3,"v":-8.25,"s":"+85 C"},{"f":21.47,"v":-8,"s":"+85 C"},{"f":21.68,"v":-7.95,"s":"+85 C"},{"f":21.9,"v":-8.35,"s":"+85 C"},{"f":22.27,"v":-8.35,"s":"+85 C"},{"f":22.78,"v":-8.7,"s":"+85 C"},{"f":23.2,"v":-9.1,"s":"+85 C"},{"f":23.42,"v":-9.25,"s":"+85 C"},{"f":23.7,"v":-9.65,"s":"+85 C"},{"f":23.97,"v":-10.05,"s":"+85 C"},{"f":24.14,"v":-10.6,"s":"+85 C"},{"f":24.35,"v":-11.4,"s":"+85 C"},{"f":24.6,"v":-11.8,"s":"+85 C"},{"f":24.86,"v":-12.5,"s":"+85 C"},{"f":25.15,"v":-13.2,"s":"+85 C"},{"f":25.32,"v":-14.9,"s":"+85 C"},{"f":25.53,"v":-15.55,"s":"+85 C"},{"f":25.93,"v":-14.7,"s":"+85 C"},{"f":26.1,"v":-13.4,"s":"+85 C"},{"f":26.27,"v":-12.1,"s":"+85 C"},{"f":26.4,"v":-11.2,"s":"+85 C"},{"f":26.65,"v":-9.9,"s":"+85 C"},{"f":26.85,"v":-8.7,"s":"+85 C"},{"f":27,"v":-9.2,"s":"+85 C"},
{"f":16.05,"v":-4.4,"s":"-40 C"},{"f":16.5,"v":-4.6,"s":"-40 C"},{"f":16.9,"v":-5.1,"s":"-40 C"},{"f":17.4,"v":-4.9,"s":"-40 C"},{"f":17.65,"v":-6,"s":"-40 C"},{"f":17.8,"v":-7.3,"s":"-40 C"},{"f":18.16,"v":-6.6,"s":"-40 C"},{"f":18.7,"v":-7.3,"s":"-40 C"},{"f":19.13,"v":-8.4,"s":"-40 C"},{"f":19.64,"v":-8,"s":"-40 C"},{"f":20.5,"v":-8.5,"s":"-40 C"},{"f":20.9,"v":-8.1,"s":"-40 C"},{"f":21.6,"v":-8,"s":"-40 C"},{"f":22.3,"v":-8.5,"s":"-40 C"},{"f":23.2,"v":-9.2,"s":"-40 C"},{"f":23.56,"v":-10.05,"s":"-40 C"},{"f":23.88,"v":-11.1,"s":"-40 C"},{"f":24.16,"v":-12.1,"s":"-40 C"},{"f":24.47,"v":-12.65,"s":"-40 C"},{"f":24.9,"v":-12.2,"s":"-40 C"},{"f":25.25,"v":-13.1,"s":"-40 C"},{"f":25.4,"v":-14.2,"s":"-40 C"},{"f":25.53,"v":-15.55,"s":"-40 C"},{"f":25.87,"v":-16.6,"s":"-40 C"},{"f":26.17,"v":-16.35,"s":"-40 C"},{"f":26.27,"v":-15.25,"s":"-40 C"},{"f":26.38,"v":-13.95,"s":"-40 C"},{"f":26.52,"v":-12.75,"s":"-40 C"},{"f":26.62,"v":-11.55,"s":"-40 C"},{"f":26.72,"v":-10.4,"s":"-40 C"},{"f":26.93,"v":-9.05,"s":"-40 C"},{"f":27,"v":-8.9,"s":"-40 C"}]},
"mark":{"type":"line","color":"black","strokeWidth":5,"clip":true,"strokeCap":"butt"},
"encoding":{"x":{"field":"f","type":"quantitative","scale":{"domain":[16,27],"nice":false,"zero":false},"axis":{"title":"FREQUENCY (GHz)","tickCount":55,"tickSize":{"condition":{"test":"abs(datum.value-round(datum.value))<0.01","value":-22},"value":-4},"grid":true,"gridOpacity":{"condition":{"test":"abs(datum.value-round(datum.value))<0.01","value":1},"value":0},"labelExpr":"abs(datum.value-round(datum.value))<0.01 ? round(datum.value) : ''","labelPadding":48,"titleX":306,"titleY":71,"titleBaseline":"alphabetic"}},
"y":{"field":"v","type":"quantitative","scale":{"domain":[-20,0],"nice":false,"zero":false},"axis":{"title":"RETURN LOSS (dB)","tickCount":20,"tickSize":{"condition":{"test":"abs(datum.value/5-round(datum.value/5))<0.01","value":-22},"value":-4},"grid":true,"gridOpacity":{"condition":{"test":"abs(datum.value/5-round(datum.value/5))<0.01","value":1},"value":0},"labelExpr":"abs(datum.value/5-round(datum.value/5))<0.01 ? round(datum.value) : ''","labelPadding":37,"titleX":-60,"titleBaseline":"alphabetic"}},
"strokeDash":{"field":"s","type":"nominal","scale":{"domain":["+25 C","+85 C","-40 C"],"range":[[1,0],[28,21],[6,19]]},"legend":{"orient":"none","legendX":139,"legendY":255,"title":null}}}},
{"data":{"values":[]},"mark":{"type":"line"},"encoding":{"x":{"field":"f","type":"quantitative","scale":{"domain":[16,27],"nice":false,"zero":false},"axis":{"orient":"top","title":null,"labels":false,"tickCount":55,"tickSize":-4}},"y":{"field":"v","type":"quantitative","scale":{"domain":[-20,0],"nice":false,"zero":false},"axis":{"orient":"right","title":null,"labels":false,"tickCount":20,"tickSize":-4}}}}],
"view":{"stroke":"black","strokeWidth":4}},
{"width":1,"height":276,"data":{"values":[]},"mark":"point"},
{"width":1,"height":1,"data":{"values":[]},"mark":"point"},
{"width":1,"height":1,"data":{"values":[]},"mark":"point"},
{"width":1,"height":1,"data":{"values":[]},"mark":"point"},
{"width":1,"height":412,"data":{"values":[]},"mark":"point"},
{"width":604,"height":412,"title":{"text":"P1dB vs. Temperature","offset":38},"resolve":{"axis":{"x":"independent","y":"independent"}},
"layer":[{"data":{"values":[
{"f":16,"v":18.2,"s":"+25 C"},{"f":16.5,"v":18.95,"s":"+25 C"},{"f":16.95,"v":19.15,"s":"+25 C"},{"f":17.46,"v":19.65,"s":"+25 C"},{"f":17.96,"v":21,"s":"+25 C"},{"f":18.44,"v":20.65,"s":"+25 C"},{"f":18.9,"v":20.1,"s":"+25 C"},{"f":19.46,"v":20.95,"s":"+25 C"},{"f":19.97,"v":21.55,"s":"+25 C"},{"f":20.49,"v":21.75,"s":"+25 C"},{"f":20.98,"v":20.6,"s":"+25 C"},{"f":21.46,"v":21,"s":"+25 C"},{"f":22,"v":22,"s":"+25 C"},{"f":22.48,"v":22.1,"s":"+25 C"},{"f":23,"v":22.65,"s":"+25 C"},{"f":23.5,"v":22.9,"s":"+25 C"},{"f":24.02,"v":22.9,"s":"+25 C"},{"f":24.49,"v":22.85,"s":"+25 C"},{"f":25,"v":22.15,"s":"+25 C"},{"f":25.5,"v":21.2,"s":"+25 C"},{"f":26,"v":20.75,"s":"+25 C"},{"f":26.49,"v":18.8,"s":"+25 C"},{"f":27,"v":17.05,"s":"+25 C"},
{"f":16,"v":16.7,"s":"+85 C"},{"f":16.44,"v":16.95,"s":"+85 C"},{"f":16.95,"v":17.1,"s":"+85 C"},{"f":17.46,"v":17.55,"s":"+85 C"},{"f":17.73,"v":18.45,"s":"+85 C"},{"f":18.1,"v":19.1,"s":"+85 C"},{"f":18.6,"v":18.65,"s":"+85 C"},{"f":19,"v":18.1,"s":"+85 C"},{"f":19.48,"v":18.45,"s":"+85 C"},{"f":19.93,"v":19,"s":"+85 C"},{"f":20.44,"v":19.4,"s":"+85 C"},{"f":20.87,"v":18.45,"s":"+85 C"},{"f":21,"v":18.15,"s":"+85 C"},{"f":21.3,"v":18.7,"s":"+85 C"},{"f":21.76,"v":19.75,"s":"+85 C"},{"f":22,"v":20.3,"s":"+85 C"},{"f":22.23,"v":20.35,"s":"+85 C"},{"f":22.7,"v":20.8,"s":"+85 C"},{"f":23.12,"v":21.5,"s":"+85 C"},{"f":23.6,"v":22,"s":"+85 C"},{"f":24.06,"v":22,"s":"+85 C"},{"f":24.53,"v":21.95,"s":"+85 C"},{"f":24.98,"v":21.3,"s":"+85 C"},{"f":25.42,"v":20.45,"s":"+85 C"},{"f":25.9,"v":20,"s":"+85 C"},{"f":26.25,"v":19,"s":"+85 C"},{"f":26.57,"v":17.8,"s":"+85 C"},{"f":27,"v":16.4,"s":"+85 C"},
{"f":16.03,"v":19.8,"s":"-40 C"},{"f":16.5,"v":20.35,"s":"-40 C"},{"f":16.94,"v":20.5,"s":"-40 C"},{"f":17.38,"v":20.9,"s":"-40 C"},{"f":17.83,"v":21.55,"s":"-40 C"},{"f":18.3,"v":21.65,"s":"-40 C"},{"f":18.77,"v":21.45,"s":"-40 C"},{"f":19.23,"v":21.95,"s":"-40 C"},{"f":19.65,"v":22.6,"s":"-40 C"},{"f":20.13,"v":22.85,"s":"-40 C"},{"f":20.57,"v":22.65,"s":"-40 C"},{"f":21.06,"v":22.35,"s":"-40 C"},{"f":21.5,"v":22.6,"s":"-40 C"},{"f":21.95,"v":23.1,"s":"-40 C"},{"f":22.4,"v":23.2,"s":"-40 C"},{"f":22.88,"v":23.45,"s":"-40 C"},{"f":23.32,"v":23.55,"s":"-40 C"},{"f":23.78,"v":23.65,"s":"-40 C"},{"f":24.25,"v":23.7,"s":"-40 C"},{"f":24.68,"v":23.35,"s":"-40 C"},{"f":25.15,"v":22.55,"s":"-40 C"},{"f":25.63,"v":21.7,"s":"-40 C"},{"f":26.06,"v":21.1,"s":"-40 C"},{"f":26.38,"v":19.9,"s":"-40 C"},{"f":26.67,"v":18.85,"s":"-40 C"},{"f":26.95,"v":17,"s":"-40 C"},{"f":27,"v":16.9,"s":"-40 C"}]},
"mark":{"type":"line","color":"black","strokeWidth":5,"clip":true,"strokeCap":"butt"},
"encoding":{"x":{"field":"f","type":"quantitative","scale":{"domain":[16,27],"nice":false,"zero":false},"axis":{"title":"FREQUENCY (GHz)","tickCount":55,"tickSize":{"condition":{"test":"abs(datum.value-round(datum.value))<0.01","value":-22},"value":-4},"grid":true,"gridOpacity":{"condition":{"test":"abs(datum.value-round(datum.value))<0.01","value":1},"value":0},"labelExpr":"abs(datum.value-round(datum.value))<0.01 ? round(datum.value) : ''","labelPadding":48,"titleX":306,"titleY":71,"titleBaseline":"alphabetic"}},
"y":{"field":"v","type":"quantitative","scale":{"domain":[10,30],"nice":false,"zero":false},"axis":{"title":"P1dB (dBm)","tickCount":40,"tickSize":{"condition":{"test":"abs(datum.value/2-round(datum.value/2))<0.01","value":-22},"value":-4},"grid":true,"gridOpacity":{"condition":{"test":"abs(datum.value/2-round(datum.value/2))<0.01","value":1},"value":0},"labelExpr":"abs(datum.value/2-round(datum.value/2))<0.01 ? round(datum.value) : ''","labelPadding":37,"titleX":-60,"titleBaseline":"alphabetic"}},
"strokeDash":{"field":"s","type":"nominal","scale":{"domain":["+25 C","+85 C","-40 C"],"range":[[1,0],[28,21],[6,19]]},"legend":{"orient":"none","legendX":320,"legendY":281,"title":null}}}},
{"data":{"values":[]},"mark":{"type":"line"},"encoding":{"x":{"field":"f","type":"quantitative","scale":{"domain":[16,27],"nice":false,"zero":false},"axis":{"orient":"top","title":null,"labels":false,"tickCount":55,"tickSize":-4}},"y":{"field":"v","type":"quantitative","scale":{"domain":[10,30],"nice":false,"zero":false},"axis":{"orient":"right","title":null,"labels":false,"tickCount":40,"tickSize":-4}}}}],
"view":{"stroke":"black","strokeWidth":4}},
{"width":1,"height":1,"data":{"values":[]},"mark":"point"},
{"width":604,"height":412,"title":{"text":"Psat vs. Temperature","offset":38},"resolve":{"axis":{"x":"independent","y":"independent"}},
"layer":[{"data":{"values":[
{"f":16,"v":22.65,"s":"+25 C"},{"f":16.5,"v":23.05,"s":"+25 C"},{"f":17,"v":22.75,"s":"+25 C"},{"f":17.5,"v":22.75,"s":"+25 C"},{"f":18,"v":23.3,"s":"+25 C"},{"f":18.5,"v":22.95,"s":"+25 C"},{"f":19,"v":22.7,"s":"+25 C"},{"f":19.5,"v":23.4,"s":"+25 C"},{"f":20,"v":23.45,"s":"+25 C"},{"f":20.5,"v":23.5,"s":"+25 C"},{"f":21,"v":23.3,"s":"+25 C"},{"f":21.5,"v":23.35,"s":"+25 C"},{"f":22,"v":23.75,"s":"+25 C"},{"f":22.5,"v":23.75,"s":"+25 C"},{"f":23,"v":23.9,"s":"+25 C"},{"f":23.5,"v":23.85,"s":"+25 C"},{"f":24,"v":23.85,"s":"+25 C"},{"f":24.5,"v":23.6,"s":"+25 C"},{"f":25,"v":22.55,"s":"+25 C"},{"f":25.5,"v":21.7,"s":"+25 C"},{"f":26,"v":21.4,"s":"+25 C"},{"f":26.5,"v":19.65,"s":"+25 C"},{"f":27,"v":18,"s":"+25 C"},
{"f":16,"v":22.6,"s":"+85 C"},{"f":16.5,"v":22.4,"s":"+85 C"},{"f":17,"v":22.1,"s":"+85 C"},{"f":17.5,"v":22.1,"s":"+85 C"},{"f":17.85,"v":22.5,"s":"+85 C"},{"f":18.3,"v":22.4,"s":"+85 C"},{"f":18.8,"v":22.1,"s":"+85 C"},{"f":19.2,"v":22.2,"s":"+85 C"},{"f":19.55,"v":22.6,"s":"+85 C"},{"f":20.05,"v":22.65,"s":"+85 C"},{"f":20.55,"v":22.7,"s":"+85 C"},{"f":21.05,"v":22.3,"s":"+85 C"},{"f":21.5,"v":22.45,"s":"+85 C"},{"f":21.9,"v":22.9,"s":"+85 C"},{"f":22.4,"v":23,"s":"+85 C"},{"f":22.85,"v":23.2,"s":"+85 C"},{"f":23.3,"v":23.2,"s":"+85 C"},{"f":23.75,"v":23.15,"s":"+85 C"},{"f":24,"v":23.1,"s":"+85 C"},{"f":24.2,"v":22.95,"s":"+85 C"},{"f":24.65,"v":22.45,"s":"+85 C"},{"f":25.1,"v":21.6,"s":"+85 C"},{"f":25.6,"v":20.85,"s":"+85 C"},{"f":26,"v":20.45,"s":"+85 C"},{"f":26.4,"v":19.2,"s":"+85 C"},{"f":26.8,"v":17.9,"s":"+85 C"},
{"f":16.05,"v":23.2,"s":"-40 C"},{"f":16.5,"v":23.55,"s":"-40 C"},{"f":17,"v":23.3,"s":"-40 C"},{"f":17.4,"v":23.4,"s":"-40 C"},{"f":17.85,"v":23.65,"s":"-40 C"},{"f":18.35,"v":23.6,"s":"-40 C"},{"f":18.8,"v":23.4,"s":"-40 C"},{"f":19.25,"v":23.7,"s":"-40 C"},{"f":19.65,"v":24.05,"s":"-40 C"},{"f":20.15,"v":24.1,"s":"-40 C"},{"f":20.6,"v":24.05,"s":"-40 C"},{"f":21.1,"v":23.95,"s":"-40 C"},{"f":21.5,"v":24.05,"s":"-40 C"},{"f":22,"v":24.25,"s":"-40 C"},{"f":22.4,"v":24.35,"s":"-40 C"},{"f":22.9,"v":24.45,"s":"-40 C"},{"f":23.3,"v":24.35,"s":"-40 C"},{"f":23.8,"v":24.35,"s":"-40 C"},{"f":24.25,"v":24.3,"s":"-40 C"},{"f":24.7,"v":23.85,"s":"-40 C"},{"f":25.15,"v":23,"s":"-40 C"},{"f":25.65,"v":22.1,"s":"-40 C"},{"f":26.1,"v":21.65,"s":"-40 C"},{"f":26.45,"v":20.5,"s":"-40 C"},{"f":26.8,"v":19.35,"s":"-40 C"},{"f":27,"v":18.8,"s":"-40 C"}]},
"mark":{"type":"line","color":"black","strokeWidth":5,"clip":true,"strokeCap":"butt"},
"encoding":{"x":{"field":"f","type":"quantitative","scale":{"domain":[16,27],"nice":false,"zero":false},"axis":{"title":"FREQUENCY (GHz)","tickCount":55,"tickSize":{"condition":{"test":"abs(datum.value-round(datum.value))<0.01","value":-22},"value":-4},"grid":true,"gridOpacity":{"condition":{"test":"abs(datum.value-round(datum.value))<0.01","value":1},"value":0},"labelExpr":"abs(datum.value-round(datum.value))<0.01 ? round(datum.value) : ''","labelPadding":48,"titleX":306,"titleY":71,"titleBaseline":"alphabetic"}},
"y":{"field":"v","type":"quantitative","scale":{"domain":[10,30],"nice":false,"zero":false},"axis":{"title":"Psat (dBm)","tickCount":40,"tickSize":{"condition":{"test":"abs(datum.value/2-round(datum.value/2))<0.01","value":-22},"value":-4},"grid":true,"gridOpacity":{"condition":{"test":"abs(datum.value/2-round(datum.value/2))<0.01","value":1},"value":0},"labelExpr":"abs(datum.value/2-round(datum.value/2))<0.01 ? round(datum.value) : ''","labelPadding":37,"titleX":-60,"titleBaseline":"alphabetic"}},
"strokeDash":{"field":"s","type":"nominal","scale":{"domain":["+25 C","+85 C","-40 C"],"range":[[1,0],[28,21],[6,19]]},"legend":{"orient":"none","legendX":258,"legendY":220,"title":null}}}},
{"data":{"values":[]},"mark":{"type":"line"},"encoding":{"x":{"field":"f","type":"quantitative","scale":{"domain":[16,27],"nice":false,"zero":false},"axis":{"orient":"top","title":null,"labels":false,"tickCount":55,"tickSize":-4}},"y":{"field":"v","type":"quantitative","scale":{"domain":[10,30],"nice":false,"zero":false},"axis":{"orient":"right","title":null,"labels":false,"tickCount":40,"tickSize":-4}}}}],
"view":{"stroke":"black","strokeWidth":4}}
]}
